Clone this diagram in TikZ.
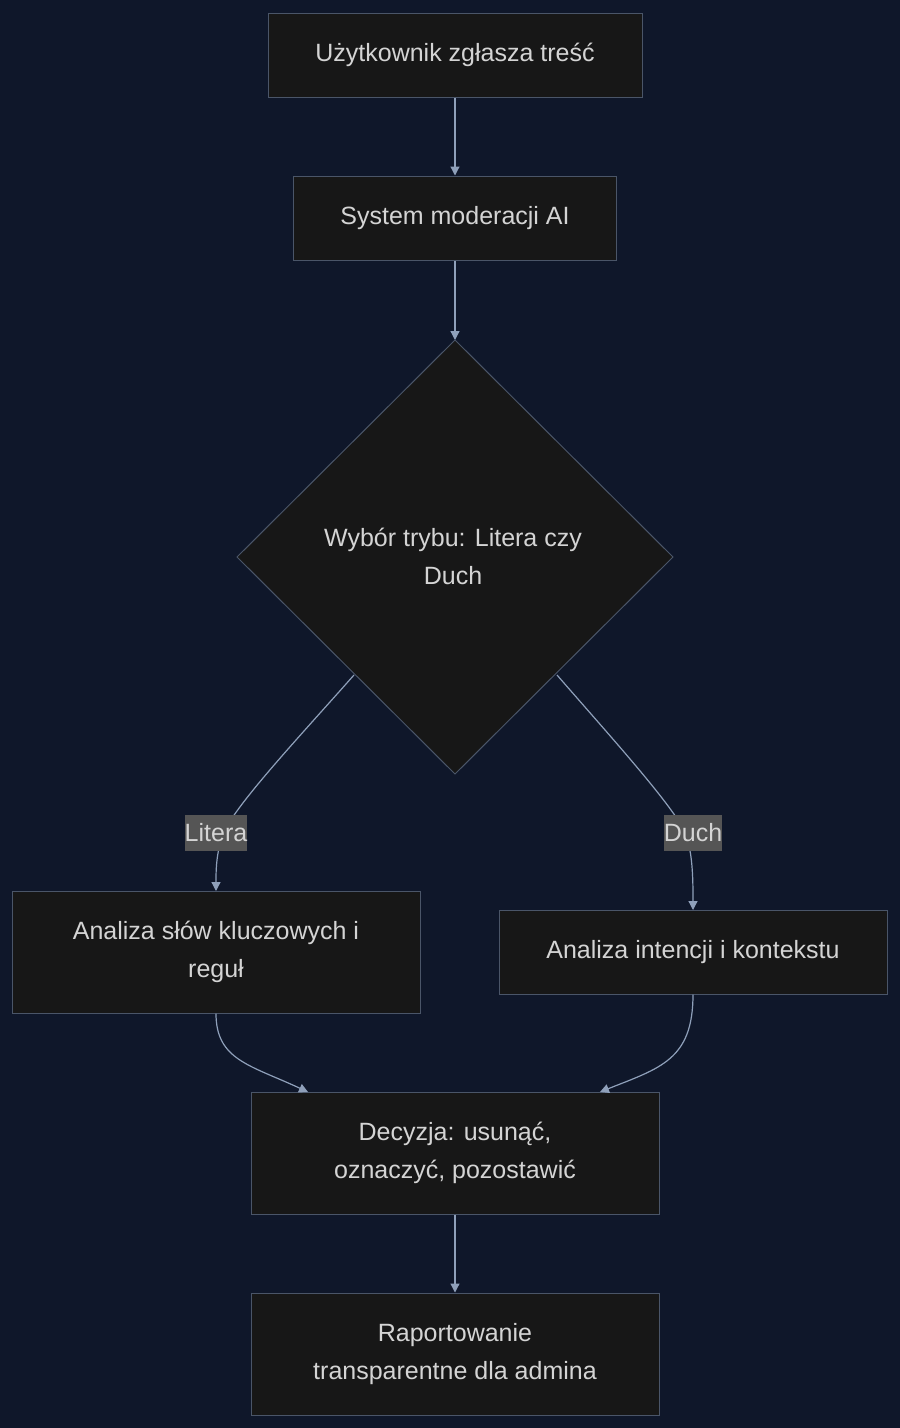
\documentclass[tikz,border=0pt]{standalone}
\usepackage{fontspec}
\setmainfont{Liberation Sans}
\usetikzlibrary{shapes.geometric,arrows.meta}
\definecolor{bg}{HTML}{0F172A}
\definecolor{nf}{HTML}{171717}
\definecolor{nb}{HTML}{4A5568}
\definecolor{tx}{HTML}{D4D4D4}
\definecolor{ar}{HTML}{8FA0BA}
\definecolor{lb}{HTML}{555555}
\begin{document}
\begin{tikzpicture}[x=1pt,y=-1pt,
 box/.style={draw=nb,fill=nf,text=tx,font=\fontsize{25}{38}\selectfont,align=center,inner sep=0,line width=1pt},
 lab/.style={fill=lb,text=tx,font=\fontsize{25}{26}\selectfont,inner sep=0pt,minimum height=36},
 edge/.style={draw=ar,line width=1.2pt,-{Triangle[length=9pt,width=9pt]}}]
\fill[bg] (0,0) rectangle (900,1428);
\useasboundingbox (0,0) rectangle (900,1428);
\node[box,minimum width=374,minimum height=84] (A) at (455,55) {Użytkownik zgłasza treść};
\node[box,minimum width=323,minimum height=84] (B) at (455,218) {System moderacji AI};
\draw[draw=nb,fill=nf,line width=1pt] (455,340)--(673,557)--(455,774)--(237,557)--cycle;
\coordinate (C) at (455,340);
\coordinate (CL) at (354,675);
\coordinate (CR) at (557,675);
\node[text=tx,font=\fontsize{25}{38}\selectfont,align=center] (Ct) at (453,556) {Wybór trybu: Litera czy\\Duch};
\node[box,minimum width=408,minimum height=122] (D) at (216,952) {Analiza słów kluczowych i\\reguł};
\node[box,minimum width=388,minimum height=84] (E) at (693,952) {Analiza intencji i kontekstu};
\node[box,minimum width=408,minimum height=122] (F) at (455,1153) {Decyzja: usunąć,\\oznaczyć, pozostawić};
\node[box,minimum width=408,minimum height=122] (G) at (455,1354) {Raportowanie\\transparentne dla admina};
\draw[edge] (B) -- (C);
\draw[edge] (A) -- (B);
\draw[edge] (CL) .. controls (300,736) and (240,800) .. (225,830) .. controls (216,850) and (216,870) .. (216,891);
\draw[edge] (CR) .. controls (610,736) and (668,800) .. (684,830) .. controls (693,850) and (693,880) .. (693,910);
\node[lab] (L1) at (216,833) {Litera};
\node[lab] (L2) at (693,833) {Duch};
\draw[edge] (D.south) .. controls (216,1060) and (250,1065) .. (308,1092);
\draw[edge] (E.south) .. controls (693,1060) and (660,1068) .. (600,1092);
\draw[edge] (F) -- (G);
\end{tikzpicture}
\end{document}
